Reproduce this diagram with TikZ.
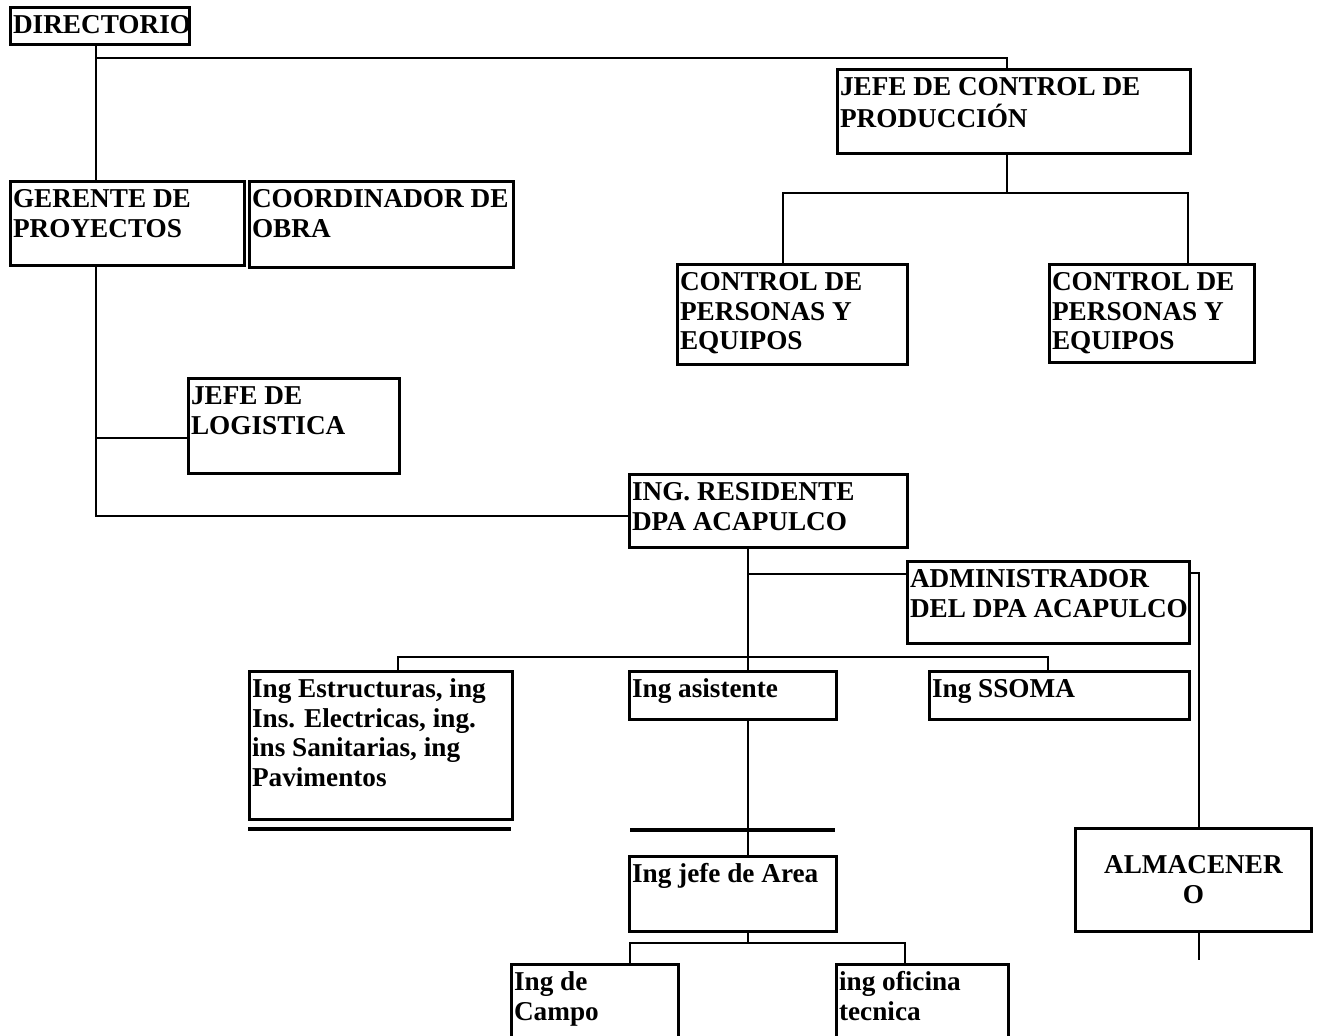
\documentclass[tikz,border=0pt]{standalone}
\usepackage{fontspec}
\setmainfont{Liberation Serif}
\usepackage{tikz}
\newlength{\px}
\setlength{\px}{0.02cm}
\newcommand{\caja}[3]{\parbox[t][#2\px][t]{#1\px}{\vspace*{2.8pt}\hspace*{1.5pt}\begin{tabular}[t]{@{}l@{}}#3\end{tabular}}}

\begin{document}
\begin{tikzpicture}[x=0.02cm,y=-0.02cm,
  puesto/.style={draw,line width=1.6pt,anchor=north west,inner sep=0pt,
    font=\bfseries\fontsize{15.5}{17}\selectfont},
  linea/.style={line width=0.8pt},
  barra/.style={line width=2pt}]
 \useasboundingbox (0,0) rectangle (1318,1035);
 \clip (0,0) rectangle (1318,1035);
 % puestos
 \node[puesto] (dir) at (9,6) {\caja{179}{37}{DIRECTORIO}};
 \node[puesto] (jefe) at (836,68) {\caja{353}{84}{JEFE DE CONTROL DE\\PRODUCCIÓN}};
 \node[puesto] (ctrla) at (676,263) {\caja{230}{100}{CONTROL DE\\PERSONAS Y\\EQUIPOS}};
 \node[puesto] (ctrlb) at (1048,263) {\caja{205}{98}{CONTROL DE\\PERSONAS Y\\EQUIPOS}};
 \node[puesto] (ger) at (9,180) {\caja{234}{84}{GERENTE DE\\PROYECTOS}};
 \node[puesto] (coord) at (248,180) {\caja{264}{86}{COORDINADOR DE\\OBRA}};
 \node[puesto] (log) at (187,377) {\caja{211}{95}{JEFE DE\\LOGISTICA}};
 \node[puesto] (res) at (628,473) {\caja{278}{73}{ING. RESIDENTE\\DPA ACAPULCO}};
 \node[puesto] (adm) at (906,560) {\caja{282}{82}{ADMINISTRADOR\\DEL DPA ACAPULCO}};
 \node[puesto] (est) at (248,670) {\caja{263}{148}{Ing Estructuras, ing\\Ins. Electricas, ing.\\ins Sanitarias, ing\\Pavimentos}};
 \node[puesto] (asis) at (628,670) {\caja{207}{48}{Ing asistente}};
 \node[puesto] (ssoma) at (928,670) {\caja{260}{48}{Ing SSOMA}};
 \node[puesto] (area) at (628,855) {\caja{207}{75}{Ing jefe de Area}};
 \node[puesto] (campo) at (510,963) {\caja{167}{100}{Ing de\\Campo}};
 \node[puesto] (ofic) at (835,963) {\caja{172}{100}{ing oficina\\tecnica}};
 \node[puesto] (alm) at (1074,827) {\parbox[t][103\px][c]{236\px}{\centering ALMACENER\\O}};
 % enlaces
 \coordinate (d1) at (96,58);
 \coordinate (d2) at (1007,58);
 \draw[linea] (dir.south -| d1) -- (ger.north -| d1);
 \draw[linea] (d1) -- (d2) -- (d2 |- jefe.north);
 \coordinate (p1) at (783,193);
 \coordinate (p2) at (1188,193);
 \draw[linea] (jefe.south -| d2) -- (d2 |- p1);
 \draw[linea] (p1 |- ctrla.north) -- (p1) -- (p2) -- (p2 |- ctrlb.north);
 \coordinate (g1) at (96,438);
 \coordinate (g2) at (96,516);
 \draw[linea] (ger.south -| g1) -- (g2) -- (g2 -| res.west);
 \draw[linea] (g1) -- (g1 -| log.west);
 \coordinate (r1) at (748,574);
 \coordinate (r2) at (398,657);
 \coordinate (r3) at (1048,657);
 \draw[linea] (res.south -| r1) -- (asis.north -| r1);
 \draw[linea] (r1) -- (r1 -| adm.west);
 \draw[linea] (r2 |- est.north) -- (r2) -- (r3) -- (r3 |- ssoma.north);
 \coordinate (a1) at (1199,573);
 \coordinate (a2) at (1199,960);
 \draw[linea] (a1 -| adm.east) -- (a1) -- (a1 |- alm.north);
 \draw[linea] (alm.south -| a2) -- (a2);
 \draw[linea] (asis.south -| r1) -- (area.north -| r1);
 \coordinate (e1) at (630,943);
 \coordinate (e2) at (905,943);
 \draw[linea] (area.south -| r1) -- (r1 |- e1);
 \draw[linea] (e1 |- campo.north) -- (e1) -- (e2) -- (e2 |- ofic.north);
 % barras
 \draw[barra] (248,829) -- (511,829);
 \draw[barra] (630,830) -- (835,830);
\end{tikzpicture}
\end{document}
